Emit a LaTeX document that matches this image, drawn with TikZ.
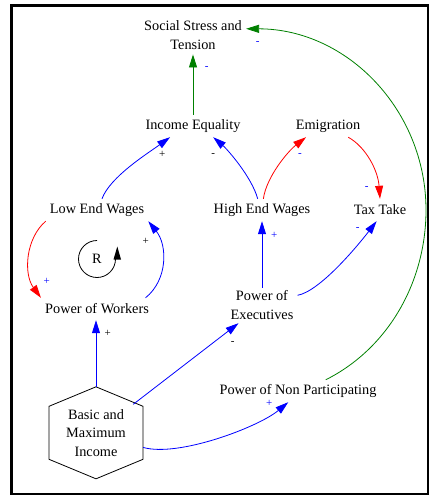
\documentclass[tikz,border=0pt]{standalone}
\usepackage{fontspec}
\setmainfont{Liberation Serif}
\usetikzlibrary{arrows.meta,calc}
\definecolor{vgreen}{RGB}{0,128,0}
\begin{document}
\begin{tikzpicture}[x=1pt,y=-1pt,
  var/.style={inner xsep=4pt, inner ysep=0pt, minimum height=22pt, font=\fontsize{14.3}{19}\selectfont, align=center},
  lbl/.style={inner sep=0pt, font=\fontsize{11}{12}\selectfont},
  conn/.style={line width=0.8pt, -{Triangle[length=13pt,width=8pt]}},
  hexline/.style={line width=0.8pt, draw=black}]
\useasboundingbox (0,0) rectangle (432,498);
\draw[line width=2.7pt] (11.3,5.3) rectangle (428,494);

% variables
\node[var, inner ysep=4.4pt, minimum height=0pt] (sst) at (193,35.3) {Social Stress and\\Tension};
\node[var] (ie) at (193,126) {Income Equality};
\node[var] (em) at (328,126) {Emigration};
\node[var] (lew) at (97,210) {Low End Wages};
\node[var] (hew) at (262,210) {High End Wages};
\node[var] (tt) at (380,210) {Tax Take};
\node[var] (pw) at (97,309) {Power of Workers};
\node[var, minimum height=35pt] (pe) at (262,305.5) {Power of\\Executives};
\node[var] (pnp) at (298,391) {Power of Non Participating};
\node[var, minimum width=94pt, minimum height=92pt, inner sep=0pt, font=\fontsize{14.3}{18.5}\selectfont] (bmi) at (96,433) {Basic and\\Maximum\\Income};
\draw[hexline] (bmi.north) -- ++(47,19.5) -- ++(0,53) -- ++(-47,19.5) -- ++(-47,-19.5) -- ++(0,-53) -- cycle;

% loop marker
\node[var, minimum height=0pt, inner sep=0pt] (rl) at (97,259) {R};
\draw[line width=0.8pt] (rl.center) ++(0,-18.5) arc[start angle=-90, end angle=-360, radius=18.5];
\fill ($(rl.center)+(16.5,0.5)$) -- ($(rl.center)+(24,0.5)$) -- ($(rl.center)+(20.3,-12.5)$) -- cycle;

% connectors
\draw[conn, vgreen] (ie.north) -- (sst.south);
\coordinate (gmid) at (426,210);
\draw[conn, vgreen] (pnp.22) .. controls (389,348) and (426,281) .. (gmid) .. controls (426,110) and (347,29) .. (sst.7);
\draw[conn, blue] (lew.66) .. controls +(8,-22) and +(-22,16) .. (ie.-154);
\draw[conn, blue] (hew.111) .. controls +(-6,-22) and +(14,12) .. (ie.-29);
\draw[conn, red] (hew.83) .. controls +(3,-22) and +(-18,14) .. (em.-153);
\draw[conn, red] (em.-29) .. controls +(18,10) and +(-2,-28) .. (tt.north);
\draw[conn, blue] (pe.north) -- (hew.south);
\draw[conn, blue] (pe.16) .. controls +(22,-4) and +(-20,26) .. (tt.-107);
\draw[conn, red] (lew.south west) .. controls +(-20,17) and +(-17.7,-24) .. (pw.north west);
\draw[conn, blue] (pw.13) .. controls +(22.4,-18) and +(19.3,24) .. (lew.south east);
\draw[conn, blue] (bmi.north) -- (bmi.north |- pw.south);
\draw[conn, blue, shorten <=47pt] (bmi.center) -- (pe.-143);
\draw[conn, blue] (bmi.-17) .. controls +(35,10) and +(-30,25) .. (pnp.-131);

% polarity labels
\node[lbl, blue] (l1) at (206.7,68.3) {-};
\node[lbl, blue] (l2) at (257.7,42.7) {-};
\node[lbl] (l3) at (162.3,154.3) {+};
\node[lbl] (l4) at (213.3,155) {-};
\node[lbl, blue] (l5) at (300,155) {-};
\node[lbl, blue] (l6) at (366.7,188.3) {-};
\node[lbl, blue] (l7) at (274.3,235) {+};
\node[lbl, blue] (l8) at (357.7,229.3) {-};
\node[lbl, blue] (l9) at (46.7,281) {+};
\node[lbl] (l10) at (145.7,241) {+};
\node[lbl] (l11) at (107.7,333.3) {+};
\node[lbl] (l12) at (232.7,343.3) {-};
\node[lbl, blue] (l13) at (269.3,403.3) {+};
\end{tikzpicture}
\end{document}
